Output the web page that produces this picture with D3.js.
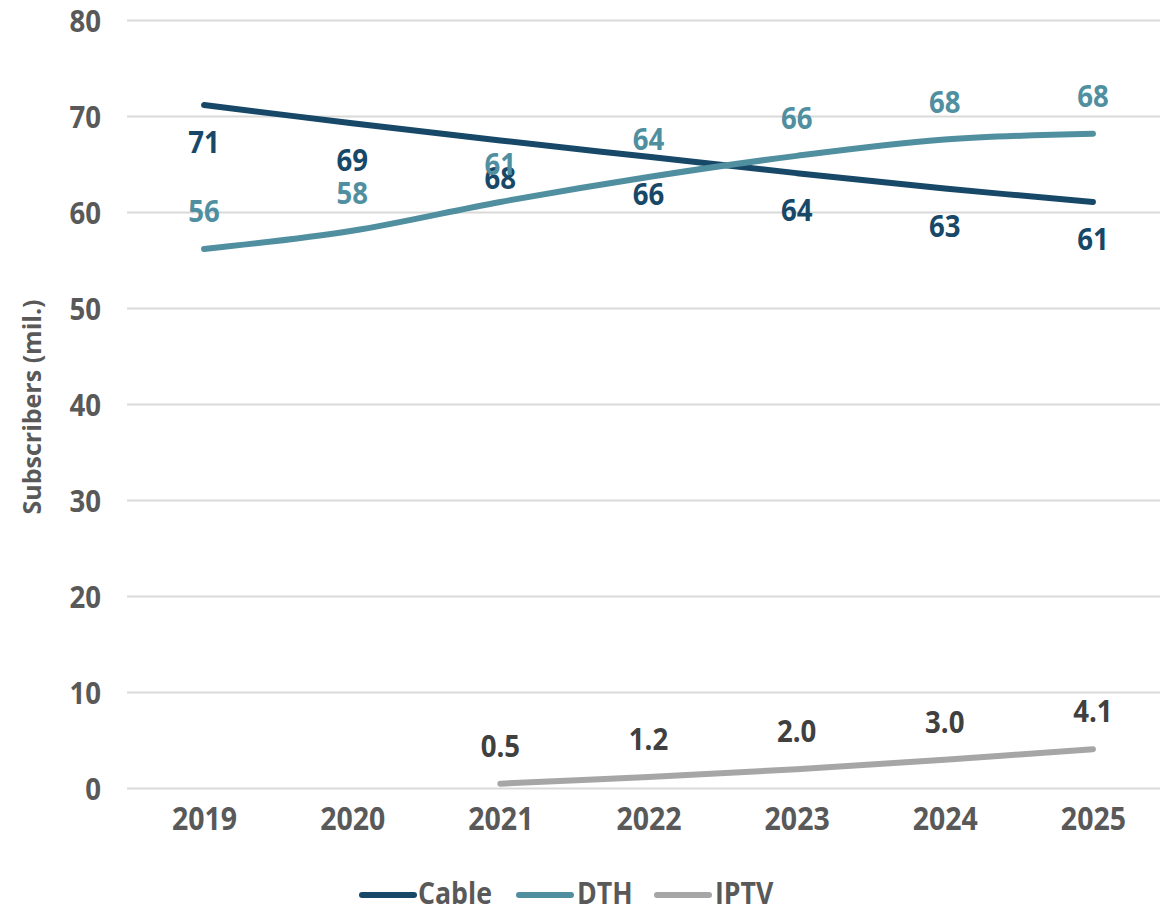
<!DOCTYPE html>
<html>
<head>
<meta charset="utf-8">
<script src="https://cdn.jsdelivr.net/npm/d3@7/dist/d3.min.js"></script>
<style>
  html, body { margin: 0; padding: 0; background: #fff; }
  svg { display: block; }
</style>
</head>
<body>
<svg id="chart" width="1160" height="908"></svg>
<script>
// Pay-TV subscribers by platform, millions
const years = ["2019", "2020", "2021", "2022", "2023", "2024", "2025"];
const cable = [71.2, 69.3, 67.5, 65.8, 64.1, 62.5, 61.1];
const dth = [56.2, 58.1, 61.1, 63.7, 65.9, 67.6, 68.2];
const iptv = [null, null, 0.5, 1.2, 2.0, 3.0, 4.1];
const cableLabels = ["71", "69", "68", "66", "64", "63", "61"];
const dthLabels = ["56", "58", "61", "64", "66", "68", "68"];
const iptvLabels = ["", "", "0.5", "1.2", "2.0", "3.0", "4.1"];
const yTicks = [0, 10, 20, 30, 40, 50, 60, 70, 80];

const series = [
  { name: "Cable", values: cable, labels: cableLabels, color: "#174868", labelColor: "#174868", pos: "below" },
  { name: "DTH", values: dth, labels: dthLabels, color: "#508fa0", labelColor: "#508fa0", pos: "above" },
  { name: "IPTV", values: iptv, labels: iptvLabels, color: "#a6a6a6", labelColor: "#404040", pos: "above" }
];

const font = "'Open Sans', 'Noto Sans', sans-serif";
const squeeze = "scale(0.89,1)";   // semi-condensed look for all labels

const svg = d3.select("#chart");

const x = d3.scalePoint().domain(years).range([130, 1167]).padding(0.5);
const y = d3.scaleLinear().domain([0, 80]).range([788.5, 20.5]);

// horizontal gridlines
svg.append("g")
  .selectAll("line")
  .data(yTicks)
  .join("line")
  .attr("x1", 127)
  .attr("x2", 1160)
  .attr("y1", d => y(d))
  .attr("y2", d => y(d))
  .attr("stroke", "#d9d9d9")
  .attr("stroke-width", 2);

// y axis tick labels
const yAxis = svg.append("g")
  .attr("transform", "translate(101,0)")
  .call(d3.axisLeft(y).tickValues(yTicks).tickSize(0).tickPadding(0));
yAxis.select(".domain").remove();
yAxis.selectAll("text")
  .attr("fill", "#595959")
  .attr("font-family", font)
  .attr("font-weight", 700)
  .attr("font-size", 31)
  .attr("dy", "0.36em")
  .attr("transform", squeeze);

// x axis tick labels
const xAxis = svg.append("g")
  .attr("transform", "translate(0,830)")
  .call(d3.axisBottom(x).tickSize(0).tickPadding(0));
xAxis.select(".domain").remove();
xAxis.selectAll("text")
  .attr("fill", "#595959")
  .attr("font-family", font)
  .attr("font-weight", 700)
  .attr("font-size", 32)
  .attr("dy", 0)
  .attr("transform", squeeze);

// y axis title
svg.append("text")
  .attr("transform", "translate(41,407) rotate(-90)")
  .attr("text-anchor", "middle")
  .attr("fill", "#595959")
  .attr("font-family", font)
  .attr("font-weight", 700)
  .attr("font-size", 25)
  .text("Subscribers (mil.)");

// smoothed series lines
const line = d3.line()
  .defined(d => d.v !== null)
  .x(d => x(d.year))
  .y(d => y(d.v))
  .curve(d3.curveCardinal);

series.forEach(s => {
  const pts = years.map((year, i) => ({ year, v: s.values[i], label: s.labels[i] }));
  svg.append("path")
    .datum(pts)
    .attr("d", line)
    .attr("fill", "none")
    .attr("stroke", s.color)
    .attr("stroke-width", 6)
    .attr("stroke-linecap", "round");
  s.pts = pts;
});

// value labels
series.forEach(s => {
  svg.append("g")
    .selectAll("text")
    .data(s.pts.filter(d => d.v !== null))
    .join("text")
    .attr("transform", d =>
      `translate(${x(d.year)},${y(d.v) + (s.pos === "below" ? 48 : -27)}) ${squeeze}`)
    .attr("text-anchor", "middle")
    .attr("fill", s.labelColor)
    .attr("font-family", font)
    .attr("font-weight", 700)
    .attr("font-size", 31)
    .text(d => d.label);
});

// legend
const legendItems = [
  { s: series[0], x0: 362, tx: 418 },
  { s: series[1], x0: 519, tx: 577 },
  { s: series[2], x0: 657, tx: 715 }
];
const legend = svg.append("g");
legendItems.forEach(item => {
  legend.append("line")
    .attr("x1", item.x0)
    .attr("x2", item.x0 + 52)
    .attr("y1", 895)
    .attr("y2", 895)
    .attr("stroke", item.s.color)
    .attr("stroke-width", 6)
    .attr("stroke-linecap", "round");
  legend.append("text")
    .attr("transform", `translate(${item.tx},904) ${squeeze}`)
    .attr("fill", "#595959")
    .attr("font-family", font)
    .attr("font-weight", 700)
    .attr("font-size", 30)
    .text(item.s.name);
});
</script>
</body>
</html>
